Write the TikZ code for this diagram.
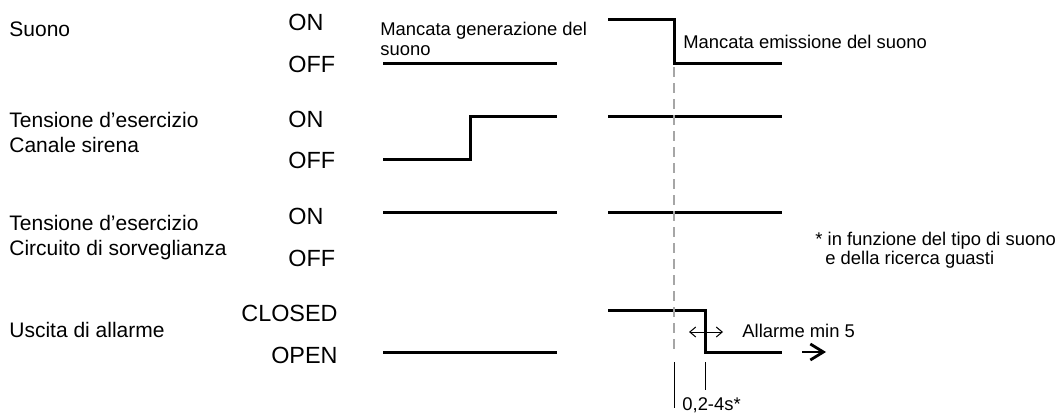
\documentclass[tikz,border=0pt]{standalone}
\usepackage{fontspec}
\setmainfont{Liberation Sans}
\usepackage{xcolor}
\definecolor{sigink}{HTML}{000000}
\definecolor{guidegray}{HTML}{A6A6A6}
\usepackage{tikz}
\usetikzlibrary{arrows.meta}
\tikzset{
  sigtitle/.style={anchor=base west, inner sep=0pt, text=sigink, font=\fontsize{10.5}{13}\selectfont},
  sigstate/.style={anchor=base west, inner sep=0pt, text=sigink, font=\fontsize{11.7}{14}\selectfont},
  sigstater/.style={sigstate, anchor=base east},
  signote/.style={anchor=base west, inner sep=0pt, text=sigink, font=\fontsize{9.2}{11}\selectfont},
  sigline/.style={draw=sigink, line width=1.5pt},
  tguide/.style={draw=guidegray, line width=0.6pt, dash pattern=on 5pt off 3pt},
  tmark/.style={draw=sigink, line width=0.5pt},
  tspan/.style={{Straight Barb[length=3pt,width=5pt]}-{Straight Barb[length=3pt,width=5pt]}, draw=sigink, line width=0.5pt},
  tcont/.style={-{Straight Barb[length=6.5pt,width=8pt]}, draw=sigink, line width=1.4pt},
}

\begin{document}
\begin{tikzpicture}[x=0.5pt, y=-0.5pt]
  \useasboundingbox (0,0) rectangle (1059,412);

  \node[sigtitle] (tsuono) at (9,36) {Suono};
  \node[sigtitle] (tcanale1) at (9,127) {Tensione d’esercizio};
  \node[sigtitle] (tcanale2) at (9,152) {Canale sirena};
  \node[sigtitle] (tcirc1) at (9,230) {Tensione d’esercizio};
  \node[sigtitle] (tcirc2) at (9,255) {Circuito di sorveglianza};
  \node[sigtitle] (tuscita) at (9,337) {Uscita di allarme};

  \node[sigstate] (on1) at (288,31) {ON};
  \node[sigstate] (off1) at (288,72) {OFF};
  \node[sigstate] (on2) at (288,127) {ON};
  \node[sigstate] (off2) at (288,168) {OFF};
  \node[sigstate] (on3) at (288,224) {ON};
  \node[sigstate] (off3) at (288,266) {OFF};
  \node[sigstater] (closed) at (338,321) {CLOSED};
  \node[sigstater] (open) at (338,363) {OPEN};

  \draw[sigline] (383,63) -- (557,63);
  \draw[sigline] (608,19) -- (674,19) -- (674,63) -- (782,63);
  \draw[sigline] (383,159) -- (470,159) -- (470,116) -- (557,116);
  \draw[sigline] (608,116) -- (782,116);
  \draw[sigline] (383,212) -- (557,212);
  \draw[sigline] (608,212) -- (782,212);
  \draw[sigline] (383,352) -- (557,352);
  \draw[sigline] (608,310) -- (705,310) -- (705,352) -- (782,352);

  \coordinate (tfail) at (674,67);
  \coordinate (tfailend) at (674,354);
  \coordinate (tdelay) at (705,362);
  \draw[tguide] (tfail) -- (tfailend);
  \draw[tmark] (674,362) -- (674,408);
  \draw[tmark] (tdelay) -- (705,390);

  \node[signote] (ngen1) at (380,35) {Mancata generazione del};
  \node[signote] (ngen2) at (380,55) {suono};
  \node[signote] (nemis) at (683,48) {Mancata emissione del suono};
  \node[signote] (nfoot1) at (815,245) {* in funzione del tipo di suono};
  \node[signote] (nfoot2) at (825,264) {e della ricerca guasti};
  \node[signote] (nmin) at (742,337) {Allarme min 5};
  \node[signote] (ndelay) at (682,410) {0,2-4s*};

  \coordinate (spanl) at (689,332);
  \coordinate (spanr) at (723,332);
  \draw[tspan] (spanl) -- (spanr);
  \coordinate (contl) at (802,352);
  \coordinate (contr) at (826,352);
  \draw[tcont] (contl) -- (contr);
\end{tikzpicture}
\end{document}
